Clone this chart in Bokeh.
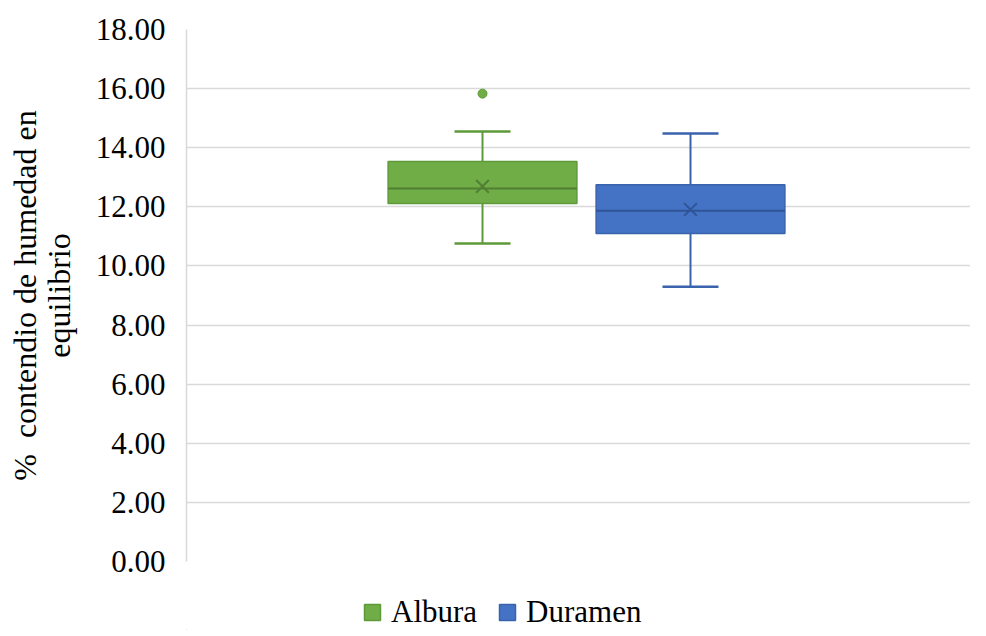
from bokeh.plotting import figure
from bokeh.layouts import column
from bokeh.models import Range1d, Legend, LegendItem, FixedTicker, NumeralTickFormatter
from bokeh.embed import file_html
from bokeh.resources import INLINE

# ---- data ----
series = ["Albura", "Duramen"]
q1 = [12.11, 11.10]
median = [12.62, 11.87]
q3 = [13.53, 12.75]
whisker_low = [10.76, 9.30]
whisker_high = [14.55, 14.48]
means = [12.69, 11.91]
outlier_series = ["Albura"]
outlier_values = [15.83]
y_ticks = [0, 2, 4, 6, 8, 10, 12, 14, 16, 18]

fill_colors = ["#70AD47", "#4472C4"]
edge_colors = ["#5E9A3A", "#3A63AE"]
mark_colors = ["#507F33", "#2F5597"]

FONT = "Liberation Serif"

p = figure(width=970, height=579, output_backend="svg", toolbar_location=None,
           x_range=Range1d(0, 0.98), y_range=Range1d(0, 18),
           min_border_left=186, min_border_top=29, min_border_bottom=18,
           min_border_right=0)
p.outline_line_color = None
p.xaxis.visible = False
p.xgrid.grid_line_color = None
p.ygrid.grid_line_color = "#D9D9D9"
p.ygrid.grid_line_width = 1.5

ax = p.yaxis[0]
ax.ticker = FixedTicker(ticks=y_ticks)
ax.formatter = NumeralTickFormatter(format="0.00")
ax.major_label_text_font = FONT
ax.major_label_text_font_size = "31px"
ax.major_label_text_color = "#000000"
ax.major_label_standoff = 15
ax.major_tick_line_color = None
ax.minor_tick_line_color = None
ax.axis_line_color = "#D9D9D9"
ax.axis_line_width = 1.5
ax.axis_label = "%\u00a0 contendio de humedad en\nequilibrio"
ax.axis_label_text_font = FONT
ax.axis_label_text_font_size = "32px"
ax.axis_label_text_font_style = "normal"
ax.axis_label_text_color = "#000000"
ax.axis_label_text_line_height = 0.95
ax.axis_label_standoff = 16

box_w = 0.236
cap_w = 0.07
n = len(series)
for i, name in enumerate(series):
    xc = 0.5 + (i - (n - 1) / 2) * 0.26
    # whiskers
    p.segment(x0=[xc, xc], y0=[q3[i], q1[i]], x1=[xc, xc], y1=[whisker_high[i], whisker_low[i]],
              line_color=edge_colors[i], line_width=2)
    p.segment(x0=[xc - cap_w / 2] * 2, x1=[xc + cap_w / 2] * 2,
              y0=[whisker_high[i], whisker_low[i]], y1=[whisker_high[i], whisker_low[i]],
              line_color=edge_colors[i], line_width=2.5)
    # box
    p.vbar(x=[xc], width=box_w, bottom=[q1[i]], top=[q3[i]],
           fill_color=fill_colors[i], line_color=edge_colors[i], line_width=1.5)
    # median
    p.segment(x0=[xc - box_w / 2], x1=[xc + box_w / 2], y0=[median[i]], y1=[median[i]],
              line_color=mark_colors[i], line_width=2)
    # mean
    p.scatter(x=[xc], y=[means[i]], marker="x", size=18, line_color=mark_colors[i], line_width=2)
    # outliers
    ov = [v for s, v in zip(outlier_series, outlier_values) if s == name]
    if ov:
        p.scatter(x=[xc] * len(ov), y=ov, marker="circle", size=9,
                  fill_color=fill_colors[i], line_color=edge_colors[i], line_width=1)

# ---- legend strip below the chart (its boxes lie far outside its visible ranges) ----
lg = figure(width=970, height=51, output_backend="svg", toolbar_location=None,
            x_range=Range1d(100, 101), y_range=Range1d(100, 101),
            min_border_left=186, min_border_right=0, min_border_top=0, min_border_bottom=0)
lg.axis.visible = False
lg.grid.grid_line_color = None
lg.outline_line_color = None
items = []
for i, name in enumerate(series):
    r = lg.vbar(x=[i], top=[q3[i]], bottom=[q1[i]], width=0.1, fill_color=fill_colors[i],
                line_color=edge_colors[i], line_width=1.5)
    items.append(LegendItem(label=name, renderers=[r]))
legend = Legend(items=items, orientation="horizontal", location=(176, 0),
                label_text_font=FONT, label_text_font_size="31px", label_text_color="#000000",
                glyph_width=20, glyph_height=20, label_standoff=9, spacing=20,
                padding=0, margin=0, border_line_color=None, background_fill_alpha=0)
lg.add_layout(legend, "center")

layout = column(p, lg, spacing=0)
open("out.html", "w").write(file_html(layout, INLINE))
